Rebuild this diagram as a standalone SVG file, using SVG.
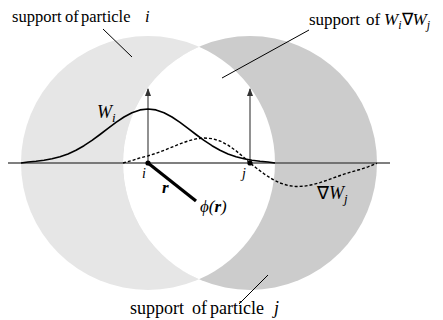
<svg xmlns="http://www.w3.org/2000/svg" width="443" height="320" viewBox="0 0 443 320">
<defs>
<style>
.t{font-family:"Liberation Serif","Times New Roman",serif;fill:#000}
.it{font-style:italic}
.lead{stroke:#000;stroke-width:1;fill:none}
.ax{stroke:#555;stroke-width:1.3;fill:none}
</style>
<marker id="ah" markerWidth="8" markerHeight="6" refX="7" refY="3" orient="auto" markerUnits="userSpaceOnUse">
<path d="M0,0 L8,3 L0,6 Z" fill="#333"/>
</marker>
</defs>
<rect width="443" height="320" fill="#fff"/>
<g id="supports">
<circle id="support-i" cx="148" cy="163" r="127" fill="#e6e6e6"/>
<circle id="support-j" cx="250" cy="163" r="127" fill="#cccccc"/>
<path id="support-overlap" d="M199,46.7 A127,127 0 0 1 199,279.3 A127,127 0 0 1 199,46.7 Z" fill="#fff"/>
</g>
<g id="axes">
<line class="ax" x1="8" y1="163" x2="390" y2="163"/>
<line class="ax" x1="148" y1="163" x2="148" y2="89" marker-end="url(#ah)"/>
<line class="ax" x1="250" y1="163" x2="250" y2="89" marker-end="url(#ah)"/>
</g>
<g id="curves">
<polyline id="Wi" fill="none" stroke="#000" stroke-width="1.6" stroke-linejoin="round" points="21,163 28,162 36,161.3 44,160.3 52,158.8 60,156.7 68,153.9 76,150.2 84,145.7 92,140.4 100,134.5 108,128.4 116,122.4 124,117 132,112.7 140,109.9 148,109 156,109.9 164,112.7 172,117 180,122.4 188,128.4 196,134.5 204,140.4 212,145.7 220,150.2 228,153.9 236,156.7 244,158.8 252,160.3 260,161.3 268,162 275,163"/>
<polyline id="gradWj" fill="none" stroke="#000" stroke-width="1.4" stroke-dasharray="3,2" stroke-linejoin="round" points="123,163 132,160.5 140,157.9 148,155.9 156,153.3 164,150.3 172,147.1 180,143.9 188,141 196,138.9 204,138 212,138.6 220,141 228,145.1 236,150.8 244,157.5 250,163 256,167.8 264,173.8 272,179 280,183 288,185.5 296,186.5 304,186.2 312,184.8 320,182.6 328,179.9 336,177 344,174.2 352,171.7 360,169.5 368,166.8 377,163.3"/>
</g>
<g id="particle-i">
<line x1="148" y1="163" x2="196" y2="201" stroke="#000" stroke-width="3.2"/>
<circle cx="148" cy="163" r="2.6" fill="#000"/>
<text class="t it" x="142" y="178" font-size="14">i</text>
</g>
<g id="particle-j">
<circle cx="250" cy="163" r="2.6" fill="#000"/>
<text class="t it" x="242" y="178" font-size="14">j</text>
</g>
<g id="leaders">
<line class="lead" x1="103" y1="29" x2="132" y2="57"/>
<line class="lead" x1="222" y1="78" x2="309" y2="30"/>
<line class="lead" x1="239" y1="304" x2="268" y2="275"/>
</g>
<g id="labels">
<text class="t" font-size="16.5" y="22"><tspan x="12">support</tspan><tspan x="65">of</tspan><tspan x="81">particle</tspan><tspan x="145" class="it">i</tspan></text>
<text class="t" font-size="17" y="25"><tspan x="309">support</tspan><tspan x="366">of</tspan><tspan x="384" class="it">W</tspan><tspan class="it" font-size="12" dy="4">i</tspan><tspan font-size="17" dy="-4">∇</tspan><tspan class="it">W</tspan><tspan class="it" font-size="12" dy="4">j</tspan></text>
<text class="t" font-size="18" y="314"><tspan x="130">support</tspan><tspan x="192">of</tspan><tspan x="210">particle</tspan><tspan x="274" class="it">j</tspan></text>
<text class="t it" font-size="18" x="97" y="118">W<tspan font-size="13" dy="4">i</tspan></text>
<text class="t" font-size="18" x="317" y="199">∇<tspan class="it">W</tspan><tspan class="it" font-size="13" dy="4">j</tspan></text>
<text class="t it" font-size="17" x="162" y="193" font-weight="bold">r</text>
<text class="t it" font-size="17" x="200" y="212">ϕ(<tspan font-weight="bold">r</tspan>)</text>
</g>
</svg>
